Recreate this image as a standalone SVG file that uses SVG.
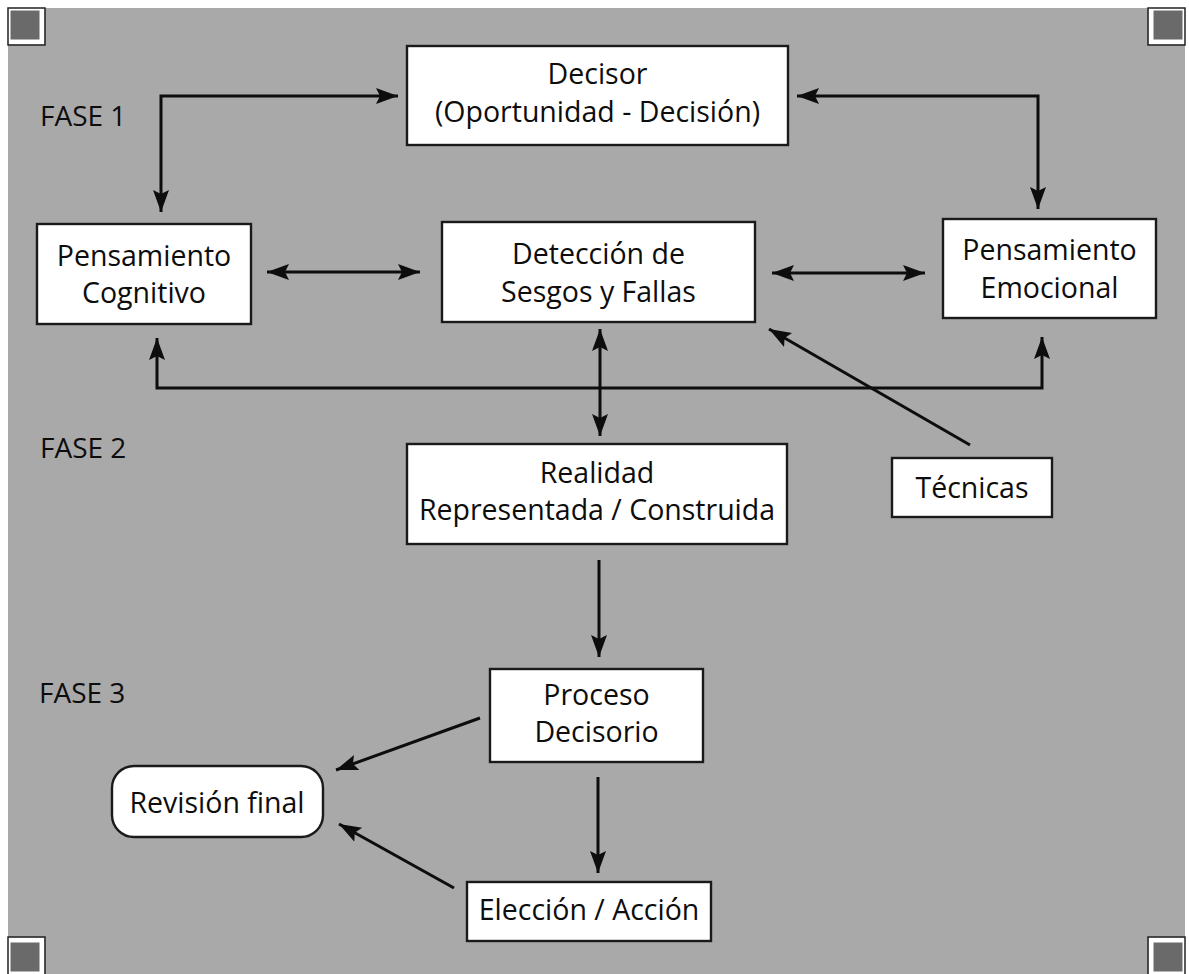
<svg xmlns="http://www.w3.org/2000/svg" width="1189" height="974" viewBox="0 0 1189 974">
<style>
.box{fill:#ffffff;stroke:#1a1a1a;stroke-width:2.4}
.t{font-family:"Open Sans","Noto Sans","Liberation Sans",sans-serif;font-size:28.5px;font-weight:500;fill:#0d0d0d;text-anchor:middle}
.lab{font-family:"Open Sans","Noto Sans","Liberation Sans",sans-serif;font-size:28px;font-weight:500;fill:#0d0d0d}
.c{fill:none;stroke:#0d0d0d;stroke-width:3}
.corner{fill:#6a6a6a;stroke:#ffffff;stroke-width:5}
.cornerline{fill:none;stroke:#222;stroke-width:1.5}
</style>
<defs>
<marker id="ah" markerUnits="userSpaceOnUse" markerWidth="24" markerHeight="20" refX="22" refY="10" orient="auto-start-reverse" viewBox="0 0 24 20">
<path d="M0,2 L22,10 L0,18 L4,10 z" fill="#0d0d0d"/>
</marker>
</defs>
<rect x="0" y="0" width="1189" height="974" fill="#ffffff"/>
<rect x="8" y="8" width="1177" height="966" fill="#a9a9a9"/>
<g id="corners">
<rect class="corner" x="8" y="8" width="34" height="34"/>
<rect class="cornerline" x="8" y="8" width="37" height="37"/>
<rect class="corner" x="1151" y="8" width="34" height="34"/>
<rect class="cornerline" x="1148" y="8" width="37" height="37"/>
<rect class="corner" x="8" y="940" width="34" height="34"/>
<rect class="cornerline" x="8" y="937" width="37" height="40"/>
<rect class="corner" x="1151" y="940" width="34" height="34"/>
<rect class="cornerline" x="1148" y="937" width="37" height="40"/>
</g>
<g id="labels">
<text class="lab" x="40" y="126">FASE 1</text>
<text class="lab" x="40" y="458">FASE 2</text>
<text class="lab" x="39" y="703">FASE 3</text>
</g>
<g id="connectors">
<path class="c" d="M161,212 V96 H398" marker-start="url(#ah)" marker-end="url(#ah)"/>
<path class="c" d="M797,96 H1038 V209" marker-start="url(#ah)" marker-end="url(#ah)"/>
<path class="c" d="M267,272 H420" marker-start="url(#ah)" marker-end="url(#ah)"/>
<path class="c" d="M772,273 H925" marker-start="url(#ah)" marker-end="url(#ah)"/>
<path class="c" d="M157,338 V388 H1042 V337" marker-start="url(#ah)" marker-end="url(#ah)"/>
<path class="c" d="M600,329 V436" marker-start="url(#ah)" marker-end="url(#ah)"/>
<path class="c" d="M970,445 L769,329" marker-end="url(#ah)"/>
<path class="c" d="M599,560 V657" marker-end="url(#ah)"/>
<path class="c" d="M480,718 L336,770" marker-end="url(#ah)"/>
<path class="c" d="M598,777 V873" marker-end="url(#ah)"/>
<path class="c" d="M454,888 L339,824" marker-end="url(#ah)"/>
</g>
<g id="decisor">
<rect class="box" x="407" y="46" width="381" height="99"/>
<text class="t" x="597.5" y="84">Decisor</text>
<text class="t" x="597.5" y="122">(Oportunidad - Decisión)</text>
</g>
<g id="cognitivo">
<rect class="box" x="37" y="224" width="214" height="100"/>
<text class="t" x="144" y="266">Pensamiento</text>
<text class="t" x="144" y="303">Cognitivo</text>
</g>
<g id="deteccion">
<rect class="box" x="442" y="222" width="313" height="100"/>
<text class="t" x="598.5" y="264">Detección de</text>
<text class="t" x="598.5" y="302">Sesgos y Fallas</text>
</g>
<g id="emocional">
<rect class="box" x="943" y="219" width="213" height="99"/>
<text class="t" x="1049.5" y="260">Pensamiento</text>
<text class="t" x="1049.5" y="298">Emocional</text>
</g>
<g id="realidad">
<rect class="box" x="407" y="444" width="380" height="100"/>
<text class="t" x="597" y="483">Realidad</text>
<text class="t" x="597" y="520">Representada / Construida</text>
</g>
<g id="tecnicas">
<rect class="box" x="892" y="458" width="160" height="59"/>
<text class="t" x="972" y="498">Técnicas</text>
</g>
<g id="proceso">
<rect class="box" x="490" y="669" width="213" height="93"/>
<text class="t" x="596.5" y="705">Proceso</text>
<text class="t" x="596.5" y="742">Decisorio</text>
</g>
<g id="revision">
<rect class="box" x="112" y="766" width="211" height="71" rx="22" ry="22"/>
<text class="t" x="217" y="813">Revisión final</text>
</g>
<g id="eleccion">
<rect class="box" x="467" y="882" width="244" height="59"/>
<text class="t" x="589" y="920">Elección / Acción</text>
</g>
</svg>
